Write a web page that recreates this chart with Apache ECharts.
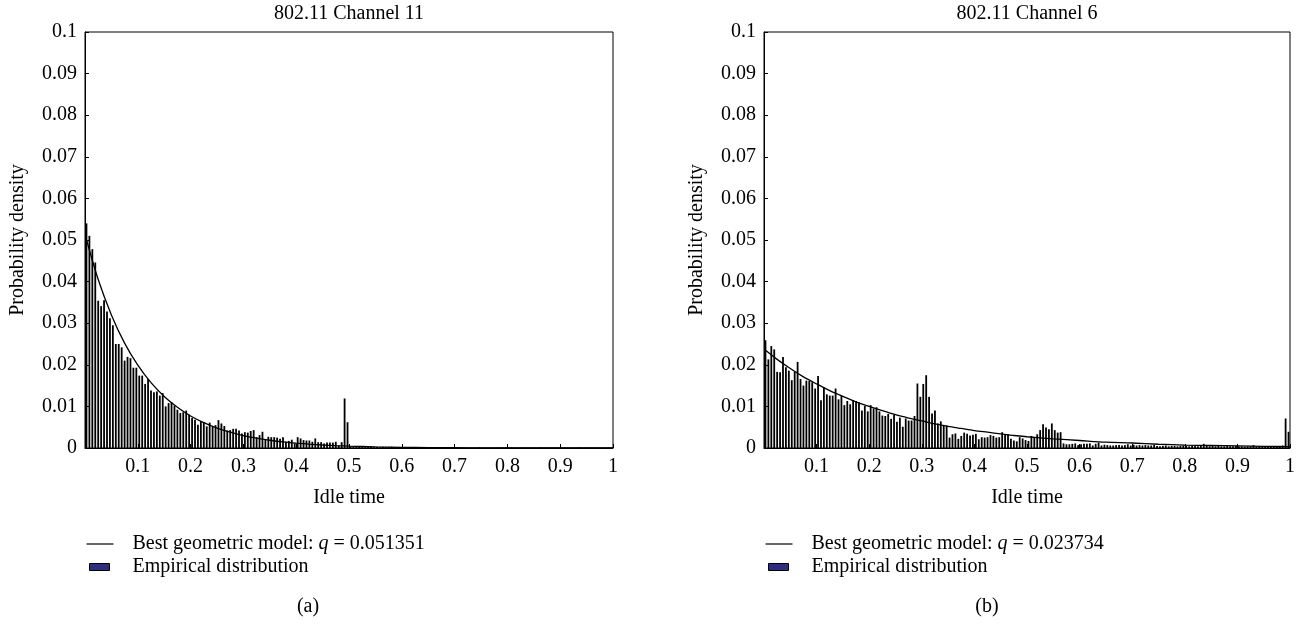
<!DOCTYPE html>
<html><head><meta charset="utf-8">
<script src="https://cdn.jsdelivr.net/npm/echarts@6/dist/echarts.min.js"></script>
<style>html,body{margin:0;padding:0;background:#fff}#c{width:1307px;height:625px}</style>
</head><body><div id="c"></div>
<script>
// ---------- data ----------
const binCount = 180; // histogram bins over idle time 0..1
const panelTitles = ['802.11 Channel 11', '802.11 Channel 6'];
const panelTags = ['(a)', '(b)'];
const modelNames = ['Best geometric model: q = 0.051351', 'Best geometric model: q = 0.023734'];
const empiricalName = 'Empirical distribution';

const ch11Hist = [
 0.054, 0.051, 0.0478, 0.0446, 0.0354, 0.0341, 0.0355, 0.0328, 0.0312, 0.0295,
 0.025, 0.025, 0.0242, 0.021, 0.0219, 0.0216, 0.0193, 0.0193, 0.0174, 0.0174,
 0.0154, 0.0166, 0.0138, 0.0134, 0.0136, 0.0126, 0.0132, 0.01, 0.0108, 0.011,
 0.0102, 0.0092, 0.0084, 0.0086, 0.009, 0.008, 0.0072, 0.0068, 0.0056, 0.0064,
 0.0062, 0.0052,
 0.0061, 0.0051, 0.0055, 0.0067, 0.0059, 0.0053, 0.0042, 0.0043, 0.0046, 0.0046,
 0.0042, 0.0035, 0.0038, 0.0037, 0.0041, 0.0043, 0.0026, 0.0031, 0.0039, 0.0021,
 0.0027, 0.0026, 0.0026, 0.0025, 0.0022, 0.0026, 0.0015, 0.0017, 0.002, 0.0011,
 0.0026, 0.0023, 0.0019, 0.0018, 0.0018, 0.0015, 0.0023, 0.0014, 0.0014, 0.0011,
 0.0013, 0.0013, 0.0013, 0.0015, 0.0006, 0.0014, 0.0119, 0.0062,
 0.0004, 0.0003, 0.0004, 0.0003, 0.0003, 0.0002, 0.0003, 0.0003, 0.0002, 0.0003,
 0.0002, 0.0003, 0.0002, 0.0002, 0.0003, 0.0002, 0.0002, 0.0002, 0.0001, 0.0002,
 0.0002, 0.0001, 0.0002, 0.0001, 0.0001, 0.0002, 0.0001, 0.0001, 0.0002, 0.0001,
 0.0001, 0.0001, 0.0002, 0.0001, 0.0001, 0.0001, 0.0001, 0.0002, 0.0001, 0.0001,
 0.0001, 0.0001, 0.0001, 0.0001, 0.0002, 0.0001, 0.0001, 0.0001, 0.0001, 0.0001,
 0.0001, 0.0001, 0.0001, 0.0002, 0.0001, 0.0001, 0.0001, 0.0001, 0.0001, 0.0001,
 0.0001, 0.0001, 0.0001, 0.0001, 0.0001, 0.0002, 0.0001, 0.0001, 0.0001, 0.0001,
 0.0001, 0.0001, 0.0001, 0.0001, 0.0001, 0.0001, 0.0001, 0.0001, 0.0002, 0.0001,
 0.0001, 0.0001, 0.0001, 0.0001, 0.0001, 0.0001, 0.0001, 0.0001, 0.0001, 0.0001
];

const ch6Hist = [
 0.0259, 0.0213, 0.0245, 0.0237, 0.0183, 0.0182, 0.0219, 0.0194, 0.0186, 0.0163,
 0.0183, 0.0207, 0.0166, 0.015, 0.0162, 0.0161, 0.0158, 0.0143, 0.0173, 0.0115,
 0.0146, 0.0129, 0.0126, 0.0126, 0.0143, 0.0117, 0.0125, 0.0103, 0.0113, 0.0105,
 0.0115, 0.0113, 0.011, 0.009, 0.0101, 0.0088, 0.0103, 0.0095, 0.0098, 0.0088,
 0.0078, 0.0077, 0.0082, 0.007, 0.008,
 0.0063, 0.0073, 0.0051, 0.0071, 0.0066, 0.0066, 0.0077, 0.0155, 0.0123, 0.0154,
 0.0175, 0.0123, 0.0083, 0.009, 0.0059, 0.0064, 0.0053, 0.0054, 0.0025, 0.0033,
 0.0035, 0.0022, 0.0029, 0.0037, 0.0034, 0.003, 0.0032, 0.0034, 0.0021, 0.0026,
 0.0025, 0.0026, 0.0031, 0.0029, 0.0025, 0.0026, 0.0038, 0.0033, 0.0033, 0.0022,
 0.0018, 0.0016, 0.0026, 0.0023,
 0.0019, 0.0017, 0.0029, 0.0026, 0.0033, 0.0043, 0.0057, 0.0049, 0.0045, 0.0059,
 0.0043, 0.0037, 0.0038, 0.0011, 0.0009, 0.0009, 0.001, 0.0011, 0.0007, 0.0009,
 0.001, 0.001, 0.0011, 0.0006, 0.001, 0.0013, 0.0006, 0.0008, 0.0007, 0.0006,
 0.0006, 0.0007, 0.0007, 0.0006, 0.0007, 0.0009, 0.0006, 0.0008, 0.0006, 0.0007,
 0.0006, 0.0007, 0.0006, 0.0006, 0.0008,
 0.0005, 0.0004, 0.0005, 0.0006, 0.0004, 0.0005, 0.0005, 0.0004, 0.0005, 0.0006,
 0.0005, 0.0004, 0.0005, 0.0005, 0.0004, 0.0006, 0.001, 0.0005, 0.0004, 0.0005,
 0.0004, 0.0005, 0.0004, 0.0004, 0.0005, 0.0004, 0.0004, 0.0005, 0.0004, 0.0004,
 0.0003, 0.0004, 0.0004, 0.0007, 0.0003, 0.0004, 0.0003, 0.0004, 0.0003, 0.0004,
 0.0003, 0.0004, 0.0005, 0.0006,
 0.0071, 0.0039
];

// best geometric model curves
const ch11ModelX = [0.003, 0.025, 0.05, 0.075, 0.1, 0.125, 0.15, 0.175, 0.2, 0.225, 0.25, 0.275, 0.3, 0.325, 0.35, 0.375, 0.4, 0.425, 0.45, 0.475, 0.5,
                    0.55, 0.6, 0.65, 0.7, 0.75, 0.8, 0.85, 0.9, 0.95, 1.0];
const ch11ModelY = [0.0500, 0.0405, 0.0320, 0.0252, 0.0199, 0.0157, 0.0124, 0.0098, 0.0077, 0.0061, 0.0048, 0.0038, 0.0030, 0.00235, 0.00186, 0.00146, 0.00116, 0.00091, 0.00072, 0.00057, 0.00045,
                    0.00028, 0.00017, 0.00011, 0.00007, 0.00004, 0.00003, 0.00002, 0.00001, 0.00001, 0];
const ch6ModelX = [0.003, 0.025, 0.05, 0.075, 0.1, 0.125, 0.15, 0.175, 0.2, 0.225, 0.25, 0.275, 0.3, 0.325, 0.35, 0.375, 0.4, 0.425, 0.45, 0.475, 0.5,
                   0.55, 0.6, 0.65, 0.7, 0.75, 0.8, 0.85, 0.9, 0.95, 1.0];
const ch6ModelY = [0.0235, 0.0213, 0.0191, 0.0171, 0.0154, 0.0138, 0.0124, 0.0111, 0.0100, 0.0090, 0.0080, 0.0072, 0.0065, 0.0058, 0.0052, 0.0047, 0.0042, 0.0038, 0.0034, 0.0030, 0.0027,
                   0.0022, 0.0018, 0.0014, 0.0012, 0.0009, 0.0007, 0.0006, 0.0005, 0.0004, 0.0003];

// ---------- chart ----------
const FONT = '"Liberation Serif", "DejaVu Serif", serif';
const histSets = [ch11Hist, ch6Hist];
const modelSets = [[ch11ModelX, ch11ModelY], [ch6ModelX, ch6ModelY]];
const grids = [
  {left: 85, top: 32, width: 528, height: 416},
  {left: 764, top: 32, width: 526, height: 416}
];
const titleX = [349, 1027];
const tagX = [308, 987];

const chart = echarts.init(document.getElementById('c'), null, {renderer: 'canvas'});
const txt = {fontFamily: FONT, fontSize: 20, color: '#000'};

const option = {
  animation: false,
  backgroundColor: '#fff',
  grid: grids.map(g => Object.assign({show: true, borderColor: '#000', borderWidth: 1, backgroundColor: 'transparent'}, g)),
  xAxis: grids.map((g, i) => ({
    type: 'value', gridIndex: i, min: 0, max: 1, interval: 0.1,
    name: 'Idle time', nameLocation: 'middle', nameGap: 40, nameTextStyle: txt,
    axisLine: {show: true, lineStyle: {color: '#000', width: 1}},
    axisTick: {show: true, inside: true, length: 4, lineStyle: {color: '#000'}},
    axisLabel: Object.assign({margin: 9, formatter: v => (v === 0 ? '' : String(+v.toFixed(1)))}, txt),
    splitLine: {show: false}
  })),
  yAxis: grids.map((g, i) => ({
    type: 'value', gridIndex: i, min: 0, max: 0.1, interval: 0.01,
    name: 'Probability density', nameLocation: 'middle', nameGap: 57, nameTextStyle: txt,
    axisLine: {show: true, lineStyle: {color: '#000', width: 1}},
    axisTick: {show: true, inside: true, length: 4, lineStyle: {color: '#000'}},
    axisLabel: Object.assign({margin: 8, formatter: v => String(+v.toFixed(2))}, txt),
    splitLine: {show: false}
  })),
  legend: grids.map((g, i) => ({
    orient: 'vertical', left: g.left + 1, top: 534, padding: 0, itemGap: 3,
    itemWidth: 27, itemHeight: 8,
    data: [
      {name: modelNames[i], icon: 'path://M0,0 L27,0 L27,1.2 L0,1.2 Z', itemStyle: {color: '#000'}},
      {name: empiricalName + (i ? ' ' : ''), icon: 'path://M0,0 M27,8 M3,0.5 L23,0.5 L23,7.5 L3,7.5 Z',
       itemStyle: {color: '#2b2f7c', borderColor: '#000', borderWidth: 1}}
    ],
    formatter: name => name.replace(' q ', ' {i|q} ').trim(),
    textStyle: {fontFamily: FONT, fontSize: 20, color: '#000', padding: [0, 0, 0, 14],
      rich: {i: {fontFamily: FONT, fontSize: 20, fontStyle: 'italic', color: '#000'}}},
    selectedMode: false
  })),
  series: [],
  graphic: []
};

[0, 1].forEach(i => {
  const hist = histSets[i];
  option.series.push({
    name: empiricalName + (i ? ' ' : ''), type: 'bar', xAxisIndex: i, yAxisIndex: i,
    barWidth: 1.8,
    itemStyle: {color: '#000'},
    data: hist.map((v, k) => [(k + 0.5) / binCount, v]),
    z: 2
  });
  const [mx, my] = modelSets[i];
  option.series.push({
    name: modelNames[i], type: 'line', xAxisIndex: i, yAxisIndex: i,
    showSymbol: false, symbol: 'none', smooth: 0.3,
    lineStyle: {color: '#000', width: 1.3},
    data: mx.map((x, k) => [x, my[k]]),
    z: 3
  });
  option.graphic.push({type: 'text', x: titleX[i], y: 14,
    style: {text: panelTitles[i], font: '20px ' + FONT, fill: '#000', align: 'center', verticalAlign: 'middle'}});
  option.graphic.push({type: 'text', x: tagX[i], y: 607,
    style: {text: panelTags[i], font: '20px ' + FONT, fill: '#000', align: 'center', verticalAlign: 'middle'}});
});

chart.setOption(option);
</script>
</body></html>
